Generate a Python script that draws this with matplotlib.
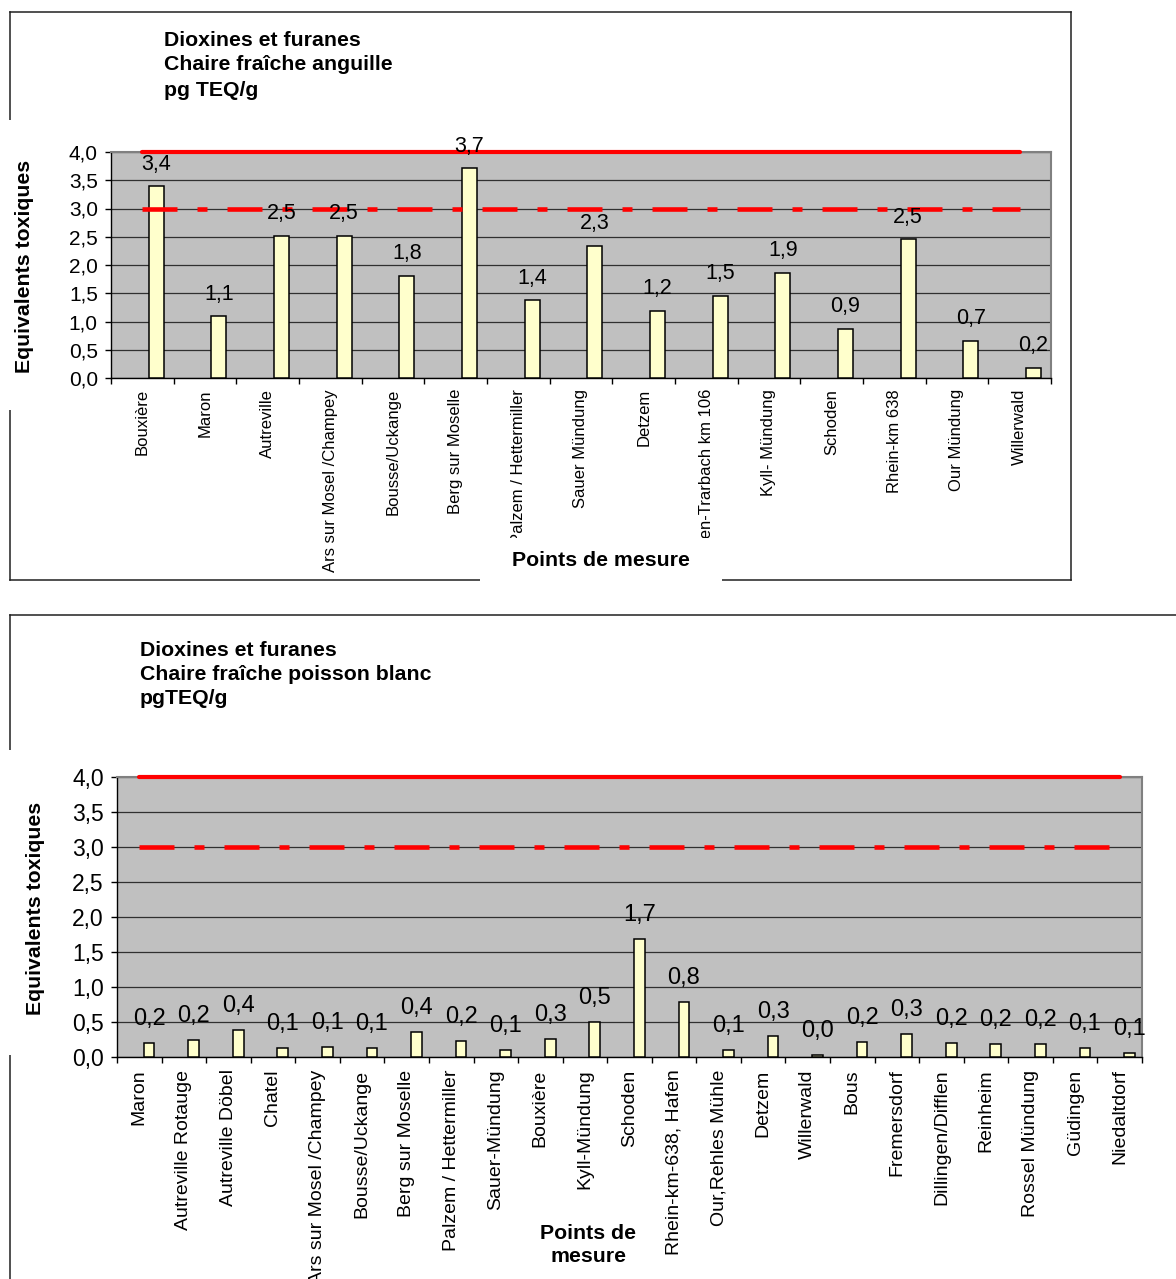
import numpy as np
import matplotlib
matplotlib.use("Agg")
import matplotlib.pyplot as plt
from matplotlib.patches import Rectangle
from matplotlib.lines import Line2D

plt.rcParams['font.family'] = ['Liberation Sans', 'DejaVu Sans']
plt.rcParams['lines.scale_dashes'] = False

# ---------------------------------------------------------------- data
eel_sites = ["Bouxière", "Maron", "Autreville", "Ars sur Mosel /Champey",
             "Bousse/Uckange", "Berg sur Moselle", "Palzem / Hettermiller",
             "Sauer Mündung", "Detzem", "Traben-Trarbach km 106",
             "Kyll- Mündung", "Schoden", "Rhein-km 638", "Our Mündung",
             "Willerwald"]
eel_teq = [3.39, 1.09, 2.52, 2.52, 1.81, 3.71, 1.38, 2.34, 1.19, 1.46,
           1.86, 0.87, 2.46, 0.66, 0.18]

fish_sites = ["Maron", "Autreville Rotauge", "Autreville Döbel", "Chatel",
              "Ars sur Mosel /Champey", "Bousse/Uckange", "Berg sur Moselle",
              "Palzem / Hettermiller", "Sauer-Mündung", "Bouxière",
              "Kyll-Mündung", "Schoden", "Rhein-km-638, Hafen",
              "Our,Rehles Mühle", "Detzem", "Willerwald", "Bous",
              "Fremersdorf", "Dillingen/Difflen", "Reinheim",
              "Rossel Mündung", "Güdingen", "Niedaltdorf"]
fish_teq = [0.20, 0.24, 0.38, 0.13, 0.14, 0.13, 0.36, 0.23, 0.10, 0.26,
            0.50, 1.68, 0.78, 0.10, 0.30, 0.03, 0.22, 0.33, 0.20, 0.18,
            0.18, 0.13, 0.06]

limit_upper = 4.0
limit_lower = 3.0
y_ticks = [0.0, 0.5, 1.0, 1.5, 2.0, 2.5, 3.0, 3.5, 4.0]

eel_title = ["Dioxines et furanes", "Chaire fraîche anguille", "pg TEQ/g"]
fish_title = ["Dioxines et furanes", "Chaire fraîche poisson blanc", "pgTEQ/g"]

# ---------------------------------------------------------------- layout
W, H = 1176, 1279
fig = plt.figure(figsize=(W / 100, H / 100), dpi=100)
fig.patch.set_facecolor('white')


def fx(px):
    return px / W


def fy(py):
    return 1 - py / H


def comma(v):
    return f"{v:.1f}".replace('.', ',')


def panel(rect, sites, values, ytick_fs, value_fs, xtick_fs, value_off_px,
          xtick_pad):
    left, top, right, bottom = rect
    ax = fig.add_axes([fx(left), fy(bottom), fx(right) - fx(left),
                       fy(top) - fy(bottom)])
    n = len(sites)
    x = np.arange(n)
    ax.set_facecolor('#C0C0C0')
    ax.bar(x + 0.22, values, width=0.24, color='#FFFFCC',
           edgecolor='black', linewidth=1.1, zorder=3)
    ax.plot(x, [limit_upper] * n, color='#FF0000', lw=3.0,
            solid_capstyle='round', zorder=4, clip_on=False)
    ax.plot(x, [limit_lower] * n, color='#FF0000', lw=3.3,
            linestyle=(0, (25.2, 14.4, 7.2, 14.4)), dash_capstyle='butt',
            zorder=4)
    for xi, v in zip(x, values):
        ax.annotate(comma(v), (xi + 0.22, v),
                    xytext=(0, value_off_px * 0.72), textcoords='offset points',
                    ha='center', va='center', fontsize=value_fs, zorder=6,
                    annotation_clip=False)
    ax.set_xlim(-0.5, n - 0.5)
    ax.set_ylim(0, 4)
    ax.set_yticks(y_ticks)
    ax.set_yticklabels([comma(t) for t in y_ticks], fontsize=ytick_fs)
    ax.yaxis.grid(True, color='#303030', lw=0.9)
    ax.set_axisbelow(True)
    ax.set_xticks(np.arange(n + 1) - 0.5)
    ax.set_xticklabels([])
    ax.set_xticks(x, minor=True)
    ax.set_xticklabels(sites, minor=True, rotation=90, fontsize=xtick_fs)
    ax.tick_params(axis='x', which='minor', length=0, pad=xtick_pad)
    ax.tick_params(axis='x', which='major', length=4.5, width=1,
                   direction='out', color='black')
    ax.tick_params(axis='y', length=4.5, width=1, direction='out', pad=5)
    for s in ('left', 'bottom'):
        ax.spines[s].set_color('black')
        ax.spines[s].set_linewidth(1.0)
    for s in ('top', 'right'):
        ax.spines[s].set_color('#808080')
        ax.spines[s].set_linewidth(1.5)
    return ax


def frame_line(x0, y0, x1, y1):
    fig.add_artist(Line2D([fx(x0), fx(x1)], [fy(y0), fy(y1)],
                          transform=fig.transFigure, color='#202020',
                          lw=1.1, zorder=1))


def white_box(x0, y0, x1, y1):
    fig.add_artist(Rectangle((fx(x0), fy(y1)), fx(x1) - fx(x0),
                             fy(y0) - fy(y1), transform=fig.transFigure,
                             facecolor='white', edgecolor='none', zorder=2.5))


# ---------------------------------------------------------------- eel chart
panel((111, 152, 1051, 378), eel_sites, eel_teq,
      ytick_fs=15, value_fs=15.5, xtick_fs=12, value_off_px=22,
      xtick_pad=8)

frame_line(10, 12, 1071, 12)
frame_line(1071, 12, 1071, 580)
frame_line(10, 580, 1071, 580)
frame_line(10, 12, 10, 580)
white_box(0, 120, 48, 410)
white_box(480, 538, 722, 590)

for i, line in enumerate(eel_title):
    fig.text(fx(164), fy(40 + 25 * i), line, fontsize=15.3, weight='bold',
             ha='left', va='center', zorder=3)
fig.text(fx(25), fy(266), "Equivalents toxiques", rotation=90, fontsize=15.3,
         weight='bold', ha='center', va='center', zorder=3)
fig.text(fx(601), fy(561), "Points de mesure", fontsize=15.3, weight='bold',
         ha='center', va='center', zorder=3)

# ---------------------------------------------------------------- fish chart
panel((117, 777, 1142, 1057), fish_sites, fish_teq,
      ytick_fs=16.5, value_fs=17, xtick_fs=14, value_off_px=24,
      xtick_pad=9)

frame_line(10, 615, 1200, 615)
frame_line(10, 615, 10, 1300)
white_box(0, 750, 52, 1055)
white_box(525, 1212, 655, 1290)

for i, line in enumerate(fish_title):
    fig.text(fx(140), fy(650 + 24 * i), line, fontsize=15.3, weight='bold',
             ha='left', va='center', zorder=3)
fig.text(fx(36), fy(908), "Equivalents toxiques", rotation=90, fontsize=15.3,
         weight='bold', ha='center', va='center', zorder=3)
fig.text(fx(588), fy(1245), "Points de\nmesure", fontsize=15.3, weight='bold',
         ha='center', va='center', linespacing=1.3, zorder=3)

fig.savefig("out.png", dpi=100, facecolor='white')
